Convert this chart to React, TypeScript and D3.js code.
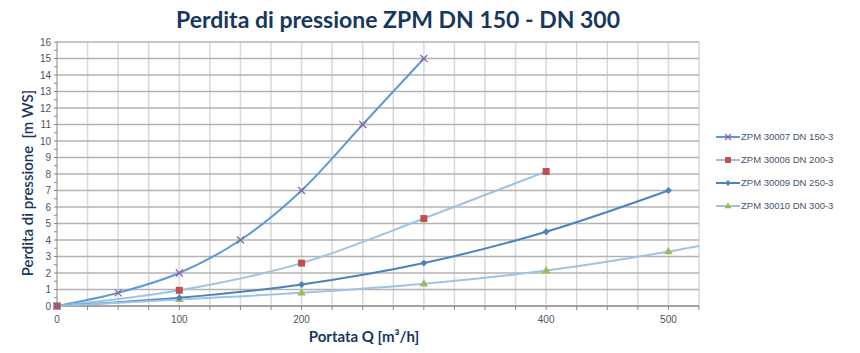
import { useEffect, useRef } from 'react';
import * as d3 from 'd3';

type Pt = [number, number];

const seriesNames = [
  'ZPM 30007 DN 150-3',
  'ZPM 30008 DN 200-3',
  'ZPM 30009 DN 250-3',
  'ZPM 30010 DN 300-3',
];

const dn150: Pt[] = [[0, 0], [50, 0.8], [100, 2], [150, 4], [200, 7], [250, 11], [300, 15]];
const dn200: Pt[] = [[0, 0], [100, 0.95], [200, 2.6], [300, 5.3], [400, 8.15]];
const dn250: Pt[] = [[0, 0], [100, 0.5], [200, 1.3], [300, 2.6], [400, 4.5], [500, 7.0]];
const dn300: Pt[] = [[0, 0], [100, 0.4], [200, 0.8], [300, 1.35], [400, 2.15], [500, 3.3], [600, 4.75]];

const xTickLabels = [0, 100, 200, 400, 500];
const yTicks = d3.range(0, 17);

const lineColors = ['#5b9bd5', '#9dc3e6', '#4f81bd', '#9dc3e6'];
const markerColors = ['#8064a2', '#c0504d', '#4f81bd', '#9bbb59'];
const markerTypes = ['x', 'square', 'diamond', 'triangle'];

export default function App() {
  const svgRef = useRef<SVGSVGElement>(null);

  useEffect(() => {
    document.body.style.margin = '0';
    if (!svgRef.current) return;
    const width = 860;
    const height = 353;
    const margin = { top: 42, right: 161, bottom: 47, left: 57 };
    const innerW = width - margin.left - margin.right;
    const innerH = height - margin.top - margin.bottom;

    const svg = d3.select(svgRef.current);
    svg.selectAll('*').remove();

    const x = d3.scaleLinear().domain([0, 525]).range([0, innerW]);
    const y = d3.scaleLinear().domain([0, 16]).range([innerH, 0]);

    // title
    svg.append('text')
      .attr('x', 398)
      .attr('y', 28)
      .attr('text-anchor', 'middle')
      .attr('font-family', 'Lato, "Open Sans", sans-serif')
      .attr('font-size', '23px')
      .attr('font-weight', 700)
      .attr('fill', '#17375e')
      .text('Perdita di pressione ZPM DN 150 - DN 300');

    const g = svg.append('g').attr('transform', `translate(${margin.left},${margin.top})`);

    g.append('defs').append('clipPath').attr('id', 'plot-clip')
      .append('rect').attr('width', innerW).attr('height', innerH);

    // vertical grid every 25
    g.selectAll('.vgrid')
      .data(d3.range(25, 526, 25))
      .enter()
      .append('line')
      .attr('x1', (d) => x(d))
      .attr('x2', (d) => x(d))
      .attr('y1', 0)
      .attr('y2', innerH)
      .attr('stroke', '#d9d9d9')
      .attr('stroke-width', 1.5);

    // horizontal grid
    g.selectAll('.hgrid')
      .data(yTicks.slice(1))
      .enter()
      .append('line')
      .attr('x1', 0)
      .attr('x2', innerW)
      .attr('y1', (d) => y(d))
      .attr('y2', (d) => y(d))
      .attr('stroke', '#b3b3b3')
      .attr('stroke-width', 1.5);

    // axes
    g.append('line').attr('x1', 0).attr('x2', 0).attr('y1', 0).attr('y2', innerH)
      .attr('stroke', '#868686').attr('stroke-width', 1);
    g.append('line').attr('x1', 0).attr('x2', innerW).attr('y1', innerH).attr('y2', innerH)
      .attr('stroke', '#868686').attr('stroke-width', 1.5);

    // y minor ticks
    g.selectAll('.ytick')
      .data(d3.range(0, 16.01, 0.5))
      .enter()
      .append('line')
      .attr('x1', -3)
      .attr('x2', 0)
      .attr('y1', (d) => y(d))
      .attr('y2', (d) => y(d))
      .attr('stroke', '#868686');

    g.selectAll('.ylabel')
      .data(yTicks)
      .enter()
      .append('text')
      .attr('x', -6)
      .attr('y', (d) => y(d))
      .attr('dy', '0.35em')
      .attr('text-anchor', 'end')
      .attr('font-family', '"Liberation Sans", Arial, sans-serif')
      .attr('font-size', '10px')
      .attr('fill', '#44546a')
      .text((d) => d);

    // x ticks
    g.selectAll('.xtick')
      .data(d3.range(0, 526, 25))
      .enter()
      .append('line')
      .attr('x1', (d) => x(d))
      .attr('x2', (d) => x(d))
      .attr('y1', innerH)
      .attr('y2', innerH + 4)
      .attr('stroke', '#868686');

    g.selectAll('.xlabel')
      .data(xTickLabels)
      .enter()
      .append('text')
      .attr('x', (d) => x(d))
      .attr('y', innerH + 17)
      .attr('text-anchor', 'middle')
      .attr('font-family', '"Liberation Sans", Arial, sans-serif')
      .attr('font-size', '10px')
      .attr('fill', '#44546a')
      .text((d) => d);

    // axis titles
    svg.append('text')
      .attr('x', 364)
      .attr('y', 342)
      .attr('text-anchor', 'middle')
      .attr('font-family', 'Lato, "Open Sans", sans-serif')
      .attr('font-size', '15px')
      .attr('font-weight', 700)
      .attr('fill', '#17375e')
      .text('Portata Q [m³/h]');

    svg.append('text')
      .attr('transform', 'translate(33,183) rotate(-90)')
      .attr('text-anchor', 'middle')
      .attr('font-family', 'Lato, "Open Sans", sans-serif')
      .attr('font-size', '15px')
      .attr('font-weight', 600)
      .attr('fill', '#17375e')
      .attr('xml:space', 'preserve')
      .text('Perdita di pressione  [m WS]');

    const line = d3.line<Pt>()
      .x((d) => x(d[0]))
      .y((d) => y(d[1]))
      .curve(d3.curveMonotoneX);

    const allSeries = [dn150, dn200, dn250, dn300];

    const drawMarker = (sel: d3.Selection<SVGGElement, unknown, null, undefined>, type: string, color: string, cx: number, cy: number, scale = 1) => {
      if (type === 'x') {
        const s = 3.5 * scale;
        sel.append('path')
          .attr('d', `M${cx - s},${cy - s}L${cx + s},${cy + s}M${cx - s},${cy + s}L${cx + s},${cy - s}`)
          .attr('stroke', color).attr('stroke-width', 1.2).attr('fill', 'none');
      } else if (type === 'square') {
        const s = 3.5 * scale;
        sel.append('rect').attr('x', cx - s).attr('y', cy - s).attr('width', 2 * s).attr('height', 2 * s)
          .attr('fill', color);
      } else if (type === 'diamond') {
        const s = 3.5 * scale;
        sel.append('path')
          .attr('d', `M${cx},${cy - s}L${cx + s},${cy}L${cx},${cy + s}L${cx - s},${cy}Z`)
          .attr('fill', color);
      } else {
        const s = 4.5 * scale;
        sel.append('path')
          .attr('d', `M${cx},${cy - s}L${cx + s * 0.95},${cy + s * 0.6}L${cx - s * 0.95},${cy + s * 0.6}Z`)
          .attr('fill', color);
      }
    };

    const plot = g.append('g').attr('clip-path', 'url(#plot-clip)');
    allSeries.forEach((data, i) => {
      plot.append('path')
        .datum(data)
        .attr('fill', 'none')
        .attr('stroke', lineColors[i])
        .attr('stroke-width', 2)
        .attr('d', line);
    });
    const markersG = g.append('g');
    [dn300, dn250, dn200, dn150].forEach((data) => {
      const i = allSeries.indexOf(data);
      data.filter((d) => d[0] <= 525).forEach((d) => {
        drawMarker(markersG, markerTypes[i], markerColors[i], x(d[0]), y(d[1]));
      });
    });

    // legend
    const legend = svg.append('g').attr('transform', 'translate(716,137)');
    seriesNames.forEach((name, i) => {
      const row = legend.append('g').attr('transform', `translate(0,${i * 23})`);
      row.append('line').attr('x1', 0).attr('x2', 24).attr('y1', 0).attr('y2', 0)
        .attr('stroke', lineColors[i]).attr('stroke-width', 2);
      drawMarker(row, markerTypes[i], markerColors[i], 12, 0, 0.85);
      row.append('text')
        .attr('x', 25)
        .attr('y', 0)
        .attr('dy', '0.35em')
        .attr('font-family', '"Liberation Sans", Arial, sans-serif')
        .attr('font-size', '9.5px')
        .attr('fill', '#44546a')
        .text(name);
    });
  }, []);

  return <svg ref={svgRef} width={860} height={353} style={{ display: 'block', background: '#fff' }} />;
}
